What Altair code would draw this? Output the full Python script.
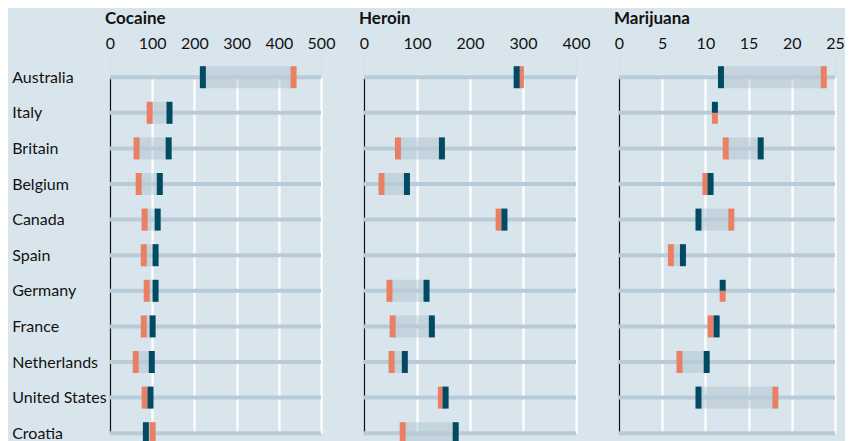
import altair as alt
import pandas as pd

countries = ["Australia", "Italy", "Britain", "Belgium", "Canada", "Spain",
             "Germany", "France", "Netherlands", "United States", "Croatia"]

cocaine_dark = [220, 141, 139, 118, 113, 108, 108, 101, 99, 96, 85]
cocaine_orange = [435, 94, 63, 68, 82, 80, 87, 80, 61, 82, 101]
heroin_dark = [288, None, 147, 81, 265, None, 118, 128, 77, 154, 173]
heroin_orange = [296, None, 64, 33, 254, None, 48, 54, 52, 145, 73]
marijuana_dark = [11.8, 11.1, 16.4, 10.6, 9.2, 7.4, 12.0, 11.3, 10.15, 9.2, None]
marijuana_orange = [23.7, 11.1, 12.35, 10.0, 13.0, 6.0, 12.0, 10.6, 7.0, 18.1, None]

cocaine_ticks = [0, 100, 200, 300, 400, 500]
heroin_ticks = [0, 100, 200, 300, 400]
marijuana_ticks = [0, 5, 10, 15, 20, 25]

DARK = "#004a63"
ORANGE = "#e98063"
TRACK = "#b8cbd8"
BAND = "#a6bcc9"
BG = "#d9e5ed"
TEXT = "#121212"
FONT = "Lato"


def make_df(dark, orange, end):
    rows = []
    for c, d, o in zip(countries, dark, orange):
        valid = d is not None and o is not None
        rows.append({
            "country": c,
            "dark": d,
            "orange": o,
            "lo": min(d, o) if valid else None,
            "hi": max(d, o) if valid else None,
            "zero": 0,
            "end": end,
            "tied": bool(valid and d == o),
        })
    return pd.DataFrame(rows)


def panel(title, dark, orange, ticks, width, first):
    end = ticks[-1]
    df = make_df(dark, orange, end)
    base = alt.Chart(df)
    yaxis = alt.Axis(title=None, domain=False, ticks=False, tickSize=0, grid=False,
                     labelAlign="left", labelPadding=98.3, labelFontSize=16,
                     labelColor=TEXT, labelFont=FONT) if first else None
    y = alt.Y("country:N", sort=countries,
              scale=alt.Scale(type="point", range=[21.7, 377.7], padding=0),
              axis=yaxis)
    xs = alt.Scale(domain=[0, end], nice=False, zero=True)
    xaxis = alt.Axis(orient="top", values=ticks, title=None, domain=False, ticks=False,
                     tickSize=0, grid=True,
                     gridColor={"condition": {"test": "datum.value === 0", "value": TEXT},
                                "value": "white"},
                     gridWidth={"condition": {"test": "datum.value === 0", "value": 1.2},
                                "value": 2.2},
                     gridOpacity=1,
                     labelFontSize=16, labelColor=TEXT, labelFont=FONT, labelPadding=4,
                     labelFlush=False)

    band = base.transform_filter("isValid(datum.lo)").mark_bar(
        size=22, color=BAND, opacity=0.42).encode(
        x=alt.X("lo:Q", scale=xs, axis=xaxis), x2="hi:Q", y=y)
    track = base.mark_bar(size=4, color=TRACK).encode(
        x=alt.X("zero:Q", scale=xs, axis=xaxis), x2="end:Q", y=y)
    o_t = base.transform_filter("isValid(datum.orange) && !datum.tied").mark_tick(
        thickness=6, size=22, color=ORANGE, opacity=1).encode(
        x=alt.X("orange:Q", scale=xs, axis=xaxis), y=y)
    d_t = base.transform_filter("isValid(datum.dark) && !datum.tied").mark_tick(
        thickness=6, size=22, color=DARK, opacity=1).encode(
        x=alt.X("dark:Q", scale=xs, axis=xaxis), y=y)
    o_tied = base.transform_filter("datum.tied").mark_tick(
        thickness=6, size=11, yOffset=5.5, color=ORANGE, opacity=1).encode(
        x=alt.X("orange:Q", scale=xs, axis=xaxis), y=y)
    d_tied = base.transform_filter("datum.tied").mark_tick(
        thickness=6, size=11, yOffset=-5.5, color=DARK, opacity=1).encode(
        x=alt.X("dark:Q", scale=xs, axis=xaxis), y=y)

    return alt.layer(band, track, o_t, d_t, o_tied, d_tied).properties(
        width=width, height=379,
        title=alt.TitleParams(title, anchor="start", frame="group", dx=-5,
                              fontSize=17, fontWeight="bold", font=FONT,
                              color=TEXT, offset=8))


chart = alt.hconcat(
    panel("Cocaine", cocaine_dark, cocaine_orange, cocaine_ticks, 211, True),
    panel("Heroin", heroin_dark, heroin_orange, heroin_ticks, 212, False),
    panel("Marijuana", marijuana_dark, marijuana_orange, marijuana_ticks, 216, False),
    spacing=43, bounds="flush",
).properties(
    background=BG,
    padding={"left": 3, "top": 0.5, "right": 0, "bottom": 0},
).configure_view(stroke=None).configure(font=FONT)

chart.save("out.html", embed_options={"renderer": "svg", "actions": False})
